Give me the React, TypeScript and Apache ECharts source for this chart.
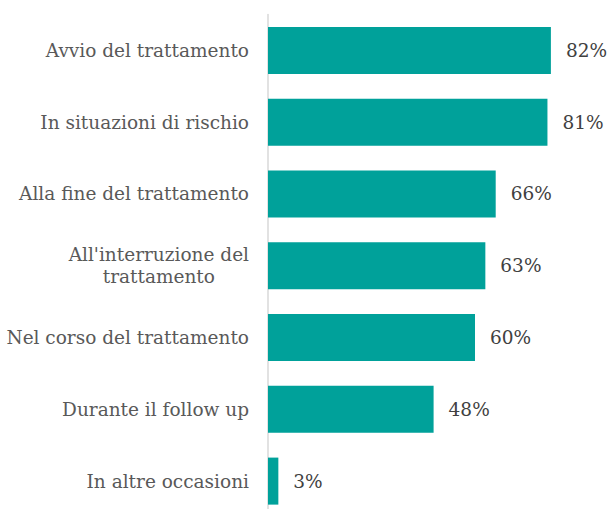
import React, { useEffect, useRef } from "react";
import * as echarts from "echarts";

const categories = [
  "Avvio del trattamento",
  "In situazioni di rischio",
  "Alla fine del trattamento",
  "All'interruzione del\ntrattamento",
  "Nel corso del trattamento",
  "Durante il follow up",
  "In altre occasioni",
];
const values = [82, 81, 66, 63, 60, 48, 3];

const FONT = "'DejaVu Serif', serif";

export default function App() {
  const ref = useRef<HTMLDivElement>(null);
  useEffect(() => {
    if (!ref.current) return;
    const chart = echarts.init(ref.current, null, { renderer: "svg" });
    chart.setOption({
      animation: false,
      grid: { left: 268, top: 14.5, right: 0, bottom: 0, containLabel: false },
      xAxis: {
        type: "value",
        min: 0,
        max: 100,
        show: false,
      },
      yAxis: {
        type: "category",
        inverse: true,
        data: categories,
        axisLine: { show: true, lineStyle: { color: "#d9d9d9", width: 1.5 } },
        axisTick: { show: false },
        axisLabel: {
          color: "#595959",
          fontFamily: FONT,
          fontSize: 18.5,
          margin: 19,
          lineHeight: 22,
          align: "right",
          formatter: (v: string) =>
            v.includes("\n")
              ? v
                  .split("\n")
                  .map((s) => `{c|${s}}`)
                  .join("\n")
              : v,
          rich: {
            c: {
              align: "center",
              color: "#595959",
              fontFamily: FONT,
              fontSize: 18.5,
              lineHeight: 22,
            },
          },
        },
      },
      series: [
        {
          type: "bar",
          data: values,
          barCategoryGap: "34.5%",
          itemStyle: { color: "#00A19A" },
          label: {
            show: true,
            position: "right",
            distance: 15,
            formatter: "{c}%",
            color: "#404040",
            fontFamily: FONT,
            fontSize: 18.5,
          },
        },
      ],
    });
    return () => chart.dispose();
  }, []);
  return (
    <div style={{ position: "absolute", left: 0, top: 0, width: 612, height: 509, overflow: "hidden" }}>
      <div ref={ref} style={{ width: 613, height: 517 }} />
    </div>
  );
}
